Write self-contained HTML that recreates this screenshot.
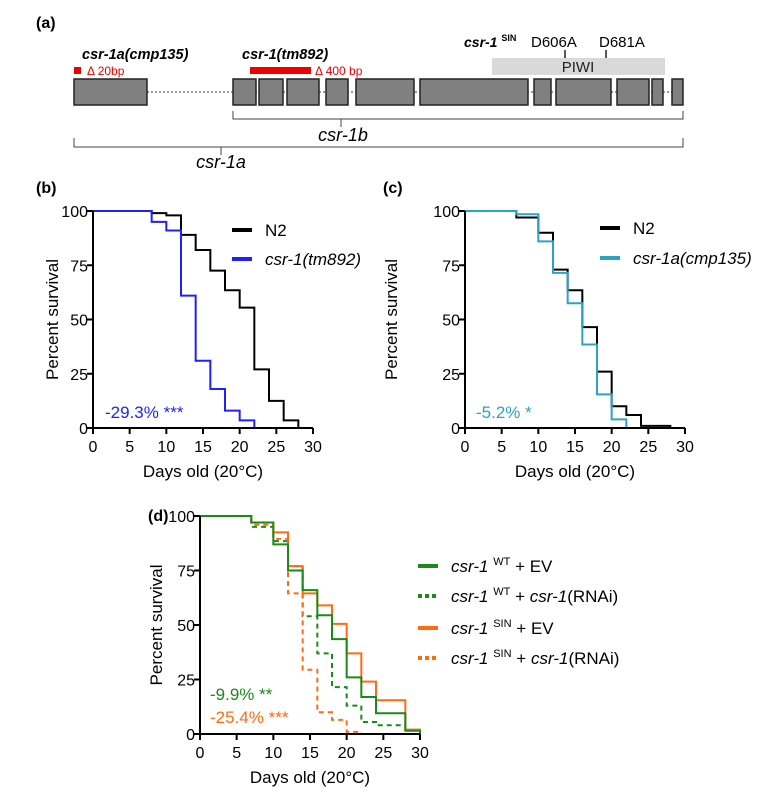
<!DOCTYPE html>
<html><head><meta charset="utf-8"><style>
body{margin:0;background:#fff;}
svg{display:block;font-family:"Liberation Sans",Arial,sans-serif;}
</style></head><body>
<svg id="fig" width="777" height="799" viewBox="0 0 777 799" xmlns="http://www.w3.org/2000/svg">
<g>
<text x="36" y="28" font-size="16" font-weight="bold">(a)</text>
<line x1="147" y1="92" x2="672" y2="92" stroke="#333" stroke-width="1" stroke-dasharray="2,2"/>
<g id="exons" fill="#808080" stroke="#222" stroke-width="1.5"></g>
<rect x="492" y="58" width="173" height="17" fill="#d9d9d9"/>
<text x="578" y="72" font-size="15" text-anchor="middle" fill="#222">PIWI</text>
<line x1="565" y1="50" x2="565" y2="58" stroke="#222" stroke-width="1.5"/>
<line x1="606" y1="50" x2="606" y2="58" stroke="#222" stroke-width="1.5"/>
<text x="531" y="47" font-size="15">D606A</text>
<text x="599" y="47" font-size="15">D681A</text>
<text x="464" y="47" font-size="14" font-weight="bold" font-style="italic">csr-1 <tspan font-size="9" font-style="normal" dy="-6">SIN</tspan></text>
<text x="82" y="59" font-size="14.5" font-weight="bold" font-style="italic">csr-1a(cmp135)</text>
<rect x="74" y="67" width="7" height="7" fill="#e00"/>
<text x="87" y="75" font-size="12" fill="#e00">Δ 20bp</text>
<text x="242" y="59" font-size="14.5" font-weight="bold" font-style="italic">csr-1(tm892)</text>
<rect x="250" y="67" width="61" height="7" fill="#e00"/>
<text x="315" y="75" font-size="12" fill="#e00">Δ 400 bp</text>
<path d="M233 111 V119 H683 V111 M341 119 V127" fill="none" stroke="#444" stroke-width="1"/>
<text x="343" y="141" font-size="18" font-style="italic" text-anchor="middle">csr-1b</text>
<path d="M74 138 V147 H683 V138 M221 147 V155" fill="none" stroke="#444" stroke-width="1"/>
<text x="221" y="168" font-size="18" font-style="italic" text-anchor="middle">csr-1a</text>
</g>
<text x="36" y="193" font-size="16" font-weight="bold">(b)</text>
<text x="383" y="193" font-size="16" font-weight="bold">(c)</text>
<text x="148" y="521" font-size="16" font-weight="bold">(d)</text>
<g id="pb"></g>
<g id="pc"></g>
<g id="pd"></g>
</svg>
<script>
const exonRanges=[[74,147],[233,256],[259,283],[287,319],[326,348],[356,414],[420,528],[534,551],[556,611],[617,649],[652,663],[672,683]];
const xTicks=[0,5,10,15,20,25,30];
const yTicks=[0,25,50,75,100];
// panel b
const bN2Days=[0,8,10,12,14,16,18,20,22,24,26,28];
const bN2Surv=[100,99,98,89,82,72.5,63.5,55.5,27,12.5,3.5,0];
const bTmDays=[0,8,10,12,14,16,18,20,22];
const bTmSurv=[100,95,91,61,31,18,8,3.5,0];
// panel c
const cN2Days=[0,7,10,12,14,16,18,20,22,24,28];
const cN2Surv=[100,97,90,73,63.5,46.5,26,10,6,1,0];
const cCmpDays=[0,7,10,12,14,16,18,20,22];
const cCmpSurv=[100,98.5,86,71.5,57.5,38.5,15.5,4,0];
// panel d
const dWtEvDays=[0,7,10,12,14,16,18,20,22,24,28,30];
const dWtEvSurv=[100,97,87,75,66,54.5,43.5,26,17,9.5,1.5,0];
const dWtRnaiDays=[0,7,10,12,14,16,18,20,22,24,28];
const dWtRnaiSurv=[100,95,88.5,77,54,37,21.5,13,5.5,4,0.5];
const dSinEvDays=[0,7,10,12,14,16,18,20,22,24,28,30];
const dSinEvSurv=[100,97,92.5,77,64.5,59,50.5,37,24,15.5,2,0];
const dSinRnaiDays=[0,7,10,12,14,16,18,20,22];
const dSinRnaiSurv=[100,96,89.5,64.5,29.5,10,6.5,1,0];

const NS="http://www.w3.org/2000/svg";
function mk(parent,tag,attrs,text){const e=document.createElementNS(NS,tag);for(const k in attrs)e.setAttribute(k,attrs[k]);if(text!==undefined)e.textContent=text;parent.appendChild(e);return e;}

const ex=document.getElementById('exons');
exonRanges.forEach((r,i)=>{const e=mk(ex,'rect',{x:r[0],y:79,width:r[1]-r[0],height:26});

});

function chart(g,x0,y0,w,h,series,ytitleX,xtitleY){
  const sx=d=>x0+d/30*w, sy=v=>y0+h-v/100*h;
  series.forEach(s=>{
    let d='M'+sx(s.days[0])+' '+sy(s.surv[0]);
    for(let i=1;i<s.days.length;i++){d+=' H'+sx(s.days[i])+' V'+sy(s.surv[i]);}
    const p=mk(g,'path',{d:d,fill:'none',stroke:s.color,'stroke-width':2});
    if(s.dash)p.setAttribute('stroke-dasharray','5,4');
    
    
  });
  const ax=mk(g,'path',{d:`M${x0} ${y0} V${y0+h} H${x0+w}`,fill:'none',stroke:'#000','stroke-width':2});
  
  
  xTicks.forEach(t=>{
    const l=mk(g,'line',{x1:sx(t),x2:sx(t),y1:y0+h,y2:y0+h+6,stroke:'#000','stroke-width':2});
    
    
    const tx=mk(g,'text',{x:sx(t),y:y0+h+24,'font-size':16,'text-anchor':'middle'},String(t));
    
    
  });
  yTicks.forEach(t=>{
    const l=mk(g,'line',{x1:x0-6,x2:x0,y1:sy(t),y2:sy(t),stroke:'#000','stroke-width':2});
    
    
    const tx=mk(g,'text',{x:x0-5,y:sy(t)+6,'font-size':16,'text-anchor':'end'},String(t));
    
    
  });
  const yt=mk(g,'text',{x:0,y:0,'font-size':17,'text-anchor':'middle',transform:`translate(${ytitleX},${y0+h/2}) rotate(-90)`},'Percent survival');
  
  
  const xt=mk(g,'text',{x:x0+w/2,y:xtitleY,'font-size':17,'text-anchor':'middle'},'Days old (20°C)');
  
  
}
function legendEntry(g,x,y,color,dash,html,name){
  const l=mk(g,'line',{x1:x,x2:x+20,y1:y,y2:y,stroke:color,'stroke-width':4});
  if(dash)l.setAttribute('stroke-dasharray','4,3');
  
  
  const t=mk(g,'text',{x:x+33,y:y+6,'font-size':17});
  t.innerHTML=html;
  
  
}
function note(g,x,y,color,txt,name){
  const t=mk(g,'text',{x:x,y:y,'font-size':17,fill:color},txt);
  
  
}
const BLUE='#1f1fff',TEAL='#2aa5c0',GREEN='#1a8a1a',ORANGE='#ff6a13';
const pb=document.getElementById('pb');
chart(pb,93,211,220,217,[{days:bN2Days,surv:bN2Surv,color:'#000',name:'n2-curve'},{days:bTmDays,surv:bTmSurv,color:BLUE,name:'tm892-curve'}],58,477);
legendEntry(pb,232,230,'#000',false,'N2','legend-n2');
legendEntry(pb,232,259,BLUE,false,'<tspan font-style="italic">csr-1(tm892)</tspan>','legend-tm892');
note(pb,105,418,BLUE,'-29.3% ***','tm892-lifespan-change');
const pc=document.getElementById('pc');
chart(pc,465,211,220,217,[{days:cN2Days,surv:cN2Surv,color:'#000',name:'n2-curve'},{days:cCmpDays,surv:cCmpSurv,color:TEAL,name:'cmp135-curve'}],397,477);
legendEntry(pc,600,228,'#000',false,'N2','legend-n2');
legendEntry(pc,600,258,TEAL,false,'<tspan font-style="italic">csr-1a(cmp135)</tspan>','legend-cmp135');
note(pc,476,418,TEAL,'-5.2% *','cmp135-lifespan-change');
const pd=document.getElementById('pd');
chart(pd,200,516,220,218,[
 {days:dWtRnaiDays,surv:dWtRnaiSurv,color:GREEN,dash:true,name:'wt-rnai-curve'},
 {days:dSinRnaiDays,surv:dSinRnaiSurv,color:ORANGE,dash:true,name:'sin-rnai-curve'},
 {days:dSinEvDays,surv:dSinEvSurv,color:ORANGE,name:'sin-ev-curve'},
 {days:dWtEvDays,surv:dWtEvSurv,color:GREEN,name:'wt-ev-curve'}],162,783);
const sup=s=>`<tspan font-size="11" dy="-7">${s}</tspan><tspan dy="7"> </tspan>`;
legendEntry(pd,418,566,GREEN,false,'<tspan font-style="italic">csr-1</tspan> '+sup('WT')+'+ EV','legend-wt-ev');
legendEntry(pd,418,596,GREEN,true,'<tspan font-style="italic">csr-1</tspan> '+sup('WT')+'+ <tspan font-style="italic">csr-1</tspan>(RNAi)','legend-wt-rnai');
legendEntry(pd,418,628,ORANGE,false,'<tspan font-style="italic">csr-1</tspan> '+sup('SIN')+'+ EV','legend-sin-ev');
legendEntry(pd,418,658,ORANGE,true,'<tspan font-style="italic">csr-1</tspan> '+sup('SIN')+'+ <tspan font-style="italic">csr-1</tspan>(RNAi)','legend-sin-rnai');
note(pd,210,700,GREEN,'-9.9% **','wt-lifespan-change');
note(pd,210,723,ORANGE,'-25.4% ***','sin-lifespan-change');
</script>
</body></html>
